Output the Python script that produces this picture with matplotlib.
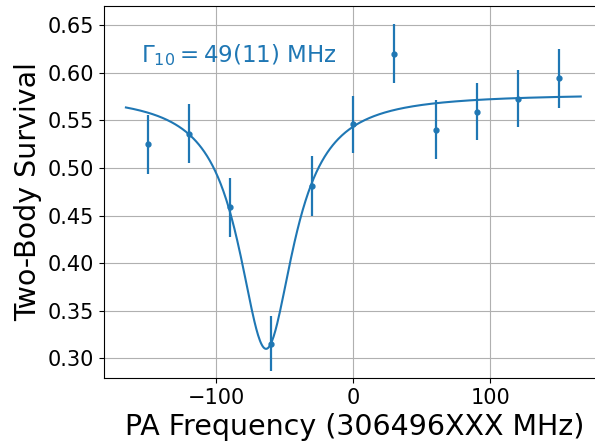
import numpy as np
import matplotlib
matplotlib.use("Agg")
import matplotlib.pyplot as plt

freq = [-150, -120, -90, -60, -30, 0, 30, 60, 90, 120, 150]
survival = [0.525, 0.536, 0.4585, 0.3156, 0.481, 0.546, 0.620, 0.540, 0.559, 0.5726, 0.594]
err = [0.031, 0.031, 0.031, 0.029, 0.032, 0.030, 0.031, 0.031, 0.030, 0.030, 0.031]

# Lorentzian fit parameters
fit_center = -63.7
fit_fwhm = 49.0
fit_depth = 0.268
fit_offset = 0.578
fit_range = (-166, 166)

fig = plt.figure(figsize=(5.95, 4.45), dpi=100)
left_px, right_px = 104, 605
ax = fig.add_axes([left_px / 595, 0.151, (right_px - left_px) / 595, 0.8355])

xf = np.linspace(fit_range[0], fit_range[1], 500)
yf = fit_offset - fit_depth / (1 + (2 * (xf - fit_center) / fit_fwhm) ** 2)
ax.plot(xf, yf, color='#1f77b4', lw=1.5)
ax.errorbar(freq, survival, yerr=err, fmt='o', color='#1f77b4', ms=3.5, elinewidth=1.6, capsize=0)

ax.text(-155, 0.6185, r'$\Gamma_{10} = 49(11)$ MHz', color='#1f77b4', fontsize=16.5, ha='left', va='center')

ax.set_xlim(-182, 183.7)
ax.set_ylim(0.2796, 0.670)
ax.set_xticks([-100, 0, 100])
ax.set_yticks([0.30, 0.35, 0.40, 0.45, 0.50, 0.55, 0.60, 0.65])
ax.tick_params(labelsize=15)
ax.grid(True, color='#b0b0b0', lw=0.8)
ax.set_axisbelow(True)
ax.set_xlabel('PA Frequency (306496XXX MHz)', fontsize=20.5)
ax.set_ylabel('Two-Body Survival', fontsize=20.5)

fig.savefig('out.png', dpi=100)
